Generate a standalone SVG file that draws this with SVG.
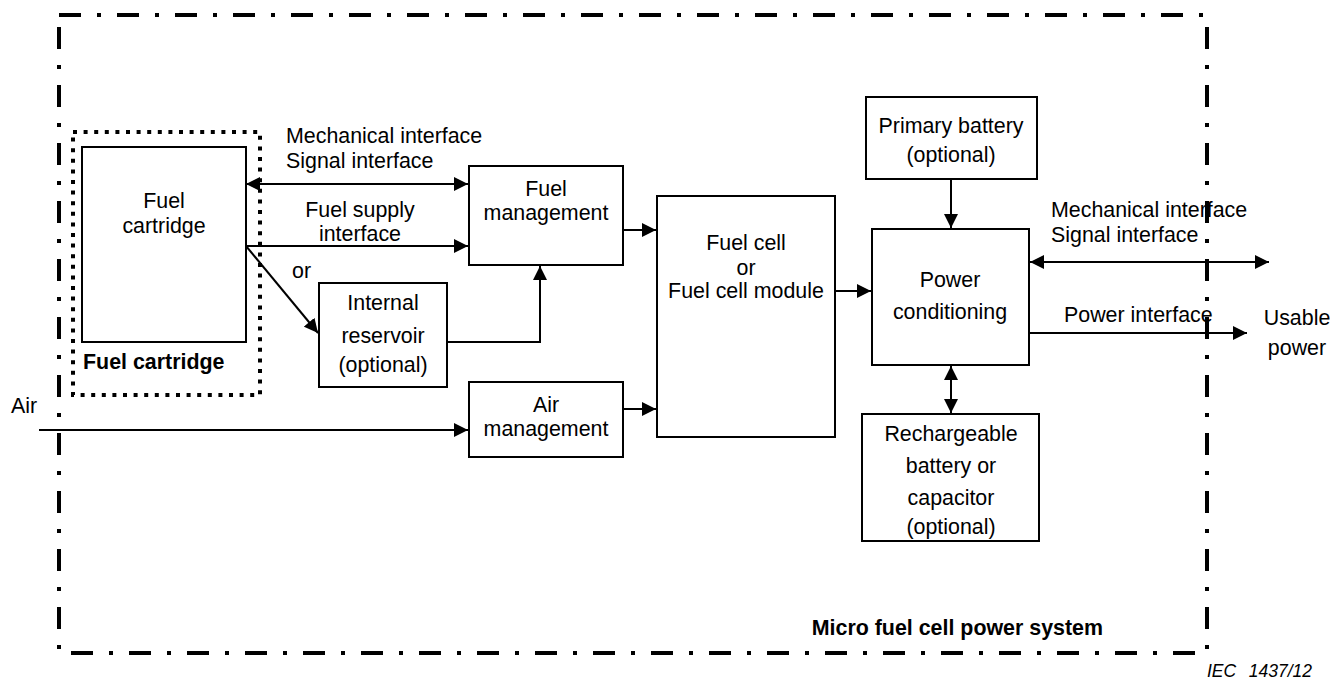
<svg xmlns="http://www.w3.org/2000/svg" width="1330" height="680" viewBox="0 0 1330 680">
<style>
text{font-family:"Liberation Sans",Arial,sans-serif;font-size:21.4px;fill:#000}
.c{text-anchor:middle}
.b{font-weight:bold}
.box{fill:#fff;stroke:#000;stroke-width:2}
.ln{fill:none;stroke:#000;stroke-width:2}
.iec{font-size:17.5px;font-style:italic}
</style>
<defs>
<marker id="ah" markerUnits="userSpaceOnUse" markerWidth="14" markerHeight="14" refX="14" refY="7" orient="auto-start-reverse">
<path d="M0,0 L14,7 L0,14 z" fill="#000"/>
</marker>
</defs>
<g id="fuel-cartridge">
<rect class="box" x="82" y="147" width="164" height="195"/>
<text x="164" y="208" class="c">Fuel</text>
<text x="164" y="233" class="c">cartridge</text>
</g>
<g id="internal-reservoir">
<rect class="box" x="319" y="283" width="128" height="104"/>
<text x="383" y="310" class="c">Internal</text>
<text x="383" y="343" class="c">reservoir</text>
<text x="383" y="372" class="c">(optional)</text>
</g>
<g id="fuel-management">
<rect class="box" x="469" y="166" width="154" height="99"/>
<text x="546" y="196" class="c">Fuel</text>
<text x="546" y="220" class="c">management</text>
</g>
<g id="air-management">
<rect class="box" x="469" y="382" width="154" height="75"/>
<text x="546" y="412" class="c">Air</text>
<text x="546" y="436" class="c">management</text>
</g>
<g id="fuel-cell">
<rect class="box" x="657" y="196" width="178" height="241"/>
<text x="746" y="250" class="c">Fuel cell</text>
<text x="746" y="275" class="c">or</text>
<text x="746" y="298" class="c">Fuel cell module</text>
</g>
<g id="primary-battery">
<rect class="box" x="866" y="97" width="171" height="82"/>
<text x="951" y="133" class="c">Primary battery</text>
<text x="951" y="162" class="c">(optional)</text>
</g>
<g id="power-conditioning">
<rect class="box" x="872" y="229" width="157" height="136"/>
<text x="950" y="287" class="c">Power</text>
<text x="950" y="319" class="c">conditioning</text>
</g>
<g id="rechargeable">
<rect class="box" x="862" y="414" width="177" height="127"/>
<text x="951" y="441" class="c">Rechargeable</text>
<text x="951" y="473" class="c">battery or</text>
<text x="951" y="505" class="c">capacitor</text>
<text x="951" y="534" class="c">(optional)</text>
</g>
<g id="connectors">
<line class="ln" x1="246" y1="184" x2="468" y2="184" marker-start="url(#ah)" marker-end="url(#ah)"/>
<line class="ln" x1="246" y1="246" x2="468" y2="246" marker-end="url(#ah)"/>
<line class="ln" x1="246" y1="246" x2="318" y2="333" marker-end="url(#ah)"/>
<polyline class="ln" points="447,342 540,342 540,266" marker-end="url(#ah)"/>
<line class="ln" x1="623" y1="230" x2="656" y2="230" marker-end="url(#ah)"/>
<line class="ln" x1="623" y1="409" x2="656" y2="409" marker-end="url(#ah)"/>
<line class="ln" x1="39" y1="430" x2="468" y2="430" marker-end="url(#ah)"/>
<line class="ln" x1="835" y1="291" x2="871" y2="291" marker-end="url(#ah)"/>
<line class="ln" x1="951" y1="179" x2="951" y2="228" marker-end="url(#ah)"/>
<line class="ln" x1="951" y1="366" x2="951" y2="413" marker-start="url(#ah)" marker-end="url(#ah)"/>
<line class="ln" x1="1030" y1="262" x2="1269" y2="262" marker-start="url(#ah)" marker-end="url(#ah)"/>
<line class="ln" x1="1029" y1="333" x2="1247" y2="333" marker-end="url(#ah)"/>
</g>
<g id="cartridge-boundary">
<rect x="73" y="132" width="187" height="263" fill="none" stroke="#000" stroke-width="4" stroke-dasharray="4 6.6"/>
<text x="83" y="369" class="b">Fuel cartridge</text>
</g>
<rect id="frame" x="59" y="15" width="1148" height="638" fill="none" stroke="#000" stroke-width="4" stroke-dasharray="22 16 4 16"/>
<g id="labels">
<text x="286" y="143">Mechanical interface</text>
<text x="286" y="168">Signal interface</text>
<text x="360" y="217" class="c">Fuel supply</text>
<text x="360" y="241" class="c">interface</text>
<text x="292" y="278">or</text>
<text x="11" y="413">Air</text>
<text x="1051" y="217">Mechanical interface</text>
<text x="1051" y="242">Signal interface</text>
<text x="1064" y="322">Power interface</text>
<text x="1297" y="325" class="c">Usable</text>
<text x="1297" y="355" class="c">power</text>
<text x="1103" y="635" class="b" text-anchor="end">Micro fuel cell power system</text>
<text x="1207" y="677" class="iec">IEC</text>
<text x="1312" y="677" class="iec" text-anchor="end">1437/12</text>
</g>
</svg>
